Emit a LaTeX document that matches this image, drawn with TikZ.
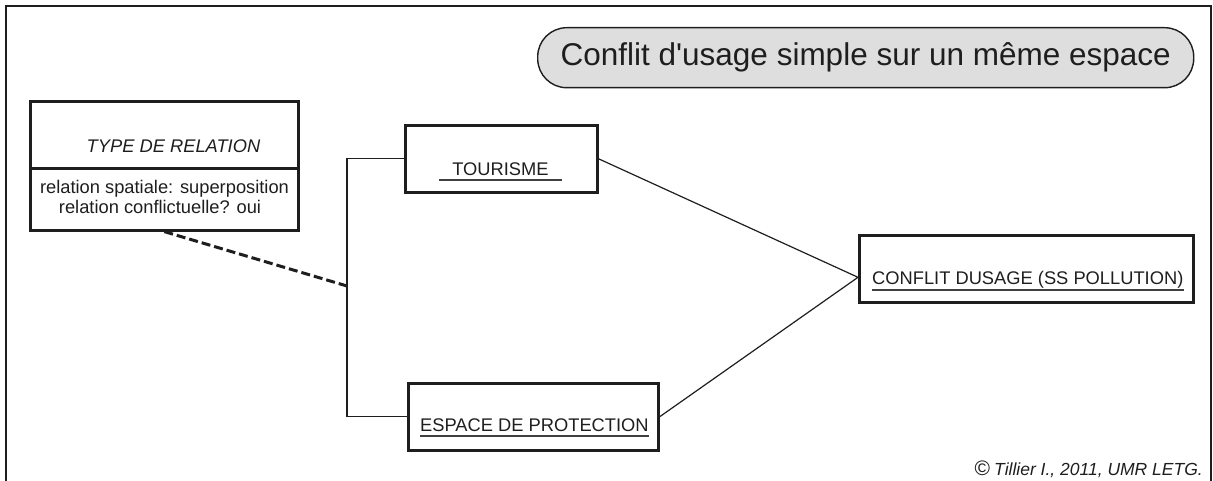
\documentclass[tikz,border=0pt]{standalone}
\usepackage{fontspec}
\setmainfont{Liberation Sans}
\usepackage{xcolor}
\usepackage{tikz}
\usetikzlibrary{calc}

\definecolor{ink}{HTML}{1E1E1E}
\definecolor{pillgray}{HTML}{DEDEDE}

\begin{document}
\begin{tikzpicture}[x=1pt, y=-1pt, every node/.style={font=\fontsize{18.3}{20}\selectfont, text=ink, inner sep=0pt},
    box/.style={draw=ink, line width=2.6pt, rectangle, anchor=north west},
    pill/.style={draw=ink, line width=1.4pt, fill=pillgray, rounded corners=29pt, anchor=north west},
    link/.style={draw=ink, line width=1.2pt},
    dashline/.style={draw=ink, line width=3pt, dash pattern=on 9pt off 4pt},
    uline/.style={draw=ink!85, line width=2pt},
    frame/.style={draw=ink, line width=1.5pt}]
  \useasboundingbox (0,0) rectangle (1213,481);
  \draw[frame] (6,481) -- (6,6) -- (1211,6) -- (1211,481);
  \node[pill, minimum width=656pt, minimum height=60pt, font=\fontsize{31.5}{36}\selectfont] (title) at (537,27)
    {Conflit d\textquotesingle usage simple sur un même espace};
  \node[box, minimum width=268pt, minimum height=67pt] (relTop) at (29,100) {};
  \node[box, minimum width=268pt, minimum height=62pt] (relBot) at (29,167) {};
  \node[box, minimum width=192pt, minimum height=67pt] (tour) at (404,124) {};
  \node[box, minimum width=250pt, minimum height=67pt] (esp) at (407,382) {};
  \node[box, minimum width=334pt, minimum height=67pt] (conf) at (858,234) {};
  \node[anchor=base, font=\fontsize{18.3}{20}\selectfont\itshape] (relT) at (173.5,152.5) {TYPE DE RELATION};
  \node[anchor=base] (relA) at (164.5,193.5) {relation spatiale: superposition};
  \node[anchor=base] (relB) at (160,213.5) {relation conflictuelle? oui};
  \node[anchor=base, inner xsep=13pt, text depth=4.5pt] (tourT) at (500.5,175.5) {TOURISME};
  \node[anchor=base west, text depth=4.5pt] (espT) at (420,431.5) {ESPACE DE PROTECTION};
  \node[anchor=base west, text depth=5.5pt] (confT) at (872,284.5) {CONFLIT DUSAGE (SS POLLUTION)};
  \foreach \t in {tourT,espT,confT}
    \draw[uline] (\t.south west) -- (\t.south east);
  \coordinate (brk) at (347,286);
  \coordinate (cin) at ([yshift=-8.5pt]conf.west);
  \draw[link] (tour.west) -| (brk) |- (esp.west);
  \draw[dashline] (relBot.south) -- (brk);
  \draw[link] (tour.east) -- (cin) -- (esp.east);
  \node[anchor=base east, font=\fontsize{17.5}{20}\selectfont\itshape] (credit) at (1203,475)
    {{\upshape\fontsize{21}{20}\selectfont ©}\hspace{4pt}Tillier I., 2011, UMR LETG.};
\end{tikzpicture}
\end{document}
